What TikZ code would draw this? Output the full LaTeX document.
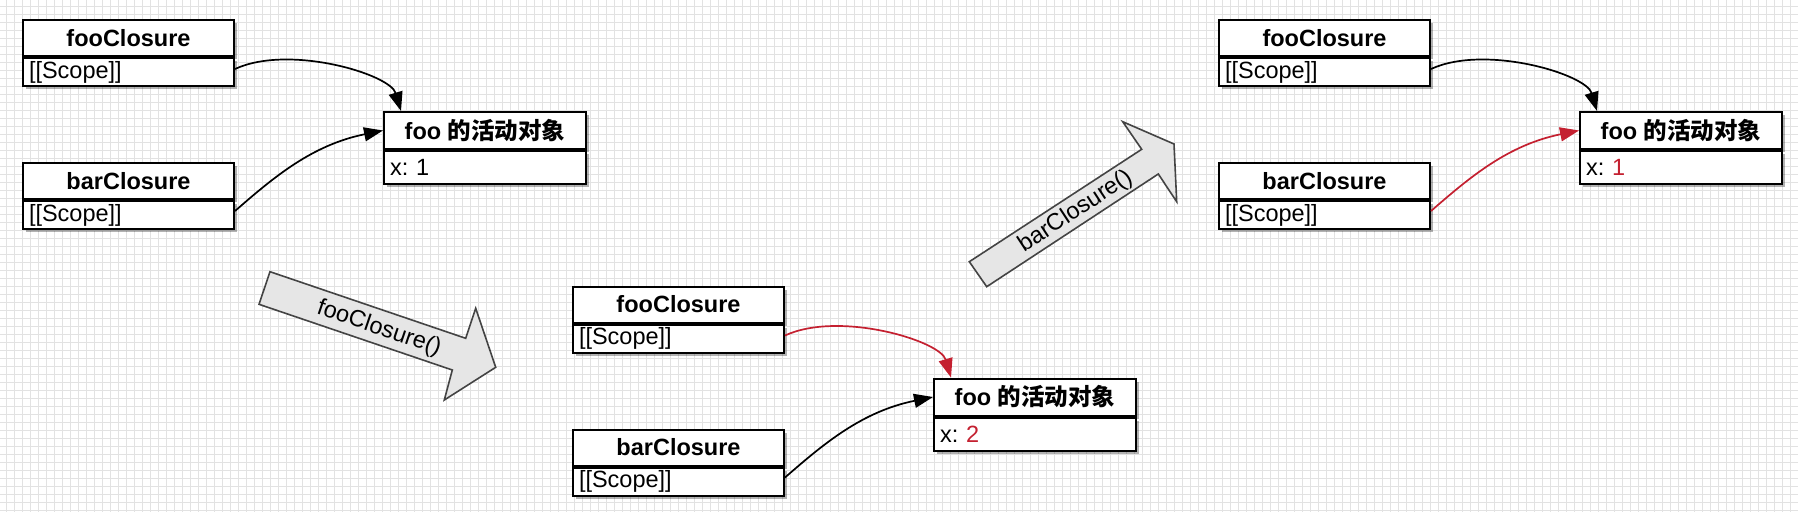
\documentclass[tikz,border=0pt]{standalone}
\usepackage{fontspec}
\setmainfont{Liberation Sans}
\newfontfamily\cjk{Noto Sans CJK SC}
\usetikzlibrary{arrows.meta,shadows}
\frenchspacing
\definecolor{myred}{RGB}{196,32,48}
\definecolor{gridc}{RGB}{226,226,226}
\definecolor{arrfill}{RGB}{230,230,230}
\definecolor{arredge}{RGB}{68,68,68}
\tikzset{
  boxshadow/.style={drop shadow={shadow xshift=2.5pt, shadow yshift=-3pt, opacity=0.3, fill=black}},
  hdrbox/.style={draw, line width=2pt, fill=white, inner sep=0pt, anchor=north west,
    font=\fontsize{23.5}{27}\selectfont\bfseries, boxshadow},
  bodybox/.style={draw, line width=2pt, fill=white, inner ysep=0pt, inner xsep=6pt, anchor=north west,
    align=left, font=\fontsize{23.5}{27}\selectfont, boxshadow},
  conn/.style={line width=1.7pt, -{Triangle[length=19pt,width=14pt]}},
  blockarrow/.style={fill=arrfill, draw=arredge, line width=1.6pt, line join=miter},
  arrtext/.style={font=\fontsize{23.5}{27}\selectfont}
}
\newcommand\mypanel[7]{%
  % #1,#2 origin; #3 prefix; #4 foo colour; #5 bar colour; #6 value colour; #7 value
  \node[hdrbox, minimum width=211pt, minimum height=36pt] (#3fh) at (#1,#2) {fooClosure};
  \node[bodybox, text width=199pt, minimum height=28pt] (#3fb) at (#3fh.south west) {[[Scope]]};
  \node[hdrbox, minimum width=211pt, minimum height=36pt] (#3bh) at (#1,#2+143) {barClosure};
  \node[bodybox, text width=199pt, minimum height=28pt] (#3bb) at (#3bh.south west) {[[Scope]]};
  \node[hdrbox, minimum width=202pt, minimum height=37pt] (#3ah) at (#1+361,#2+92) {foo {\cjk 的活动对象}};
  \node[bodybox, text width=190pt, minimum height=33pt] (#3ab) at (#3ah.south west) {x: \textcolor{#6}{#7}};
  \draw[conn, draw=#4] ([yshift=3pt]#3fb.east) .. controls +(54,-25) and +(-11,-37) .. ([xshift=18pt]#3ah.north west);
  \draw[conn, draw=#5] ([yshift=4pt]#3bb.east) .. controls +(39,-34) and +(-71,14.5) .. (#3ah.west);
}
\begin{document}
\begin{tikzpicture}[x=1pt,y=-1pt]
\useasboundingbox (0,0) rectangle (1798,512);
\fill[white] (0,0) rectangle (1798,512);
\foreach \i in {0,...,224} \draw[gridc, line width=1pt] (6.5+8*\i,0) -- (6.5+8*\i,512);
\foreach \j in {0,...,63} \draw[gridc, line width=1pt] (0,6.5+8*\j) -- (1798,6.5+8*\j);

\mypanel{22}{19}{p}{black}{black}{black}{1}
\mypanel{572}{285.5}{q}{myred}{black}{myred}{2}
\mypanel{1218}{19}{r}{black}{myred}{myred}{1}

% block arrow fooClosure()
\draw[blockarrow] (270,271.7) -- (465.7,338.3) -- (475.7,308.3) -- (495.7,367.3) -- (444.3,400) -- (452.3,370) -- (259,304.3) -- cycle;
\node[arrtext, rotate=-18.8] (fa) at (379,328.5) {fooClosure()};
% block arrow barClosure()
\draw[blockarrow] (986.7,286.7) -- (1158.3,174) -- (1176.7,201.7) -- (1174,144) -- (1122.7,121.7) -- (1141.7,149.3) -- (969.3,261.7) -- cycle;
\node[arrtext, rotate=33.2] (ba) at (1075.7,211.5) {barClosure()};
\end{tikzpicture}
\end{document}
